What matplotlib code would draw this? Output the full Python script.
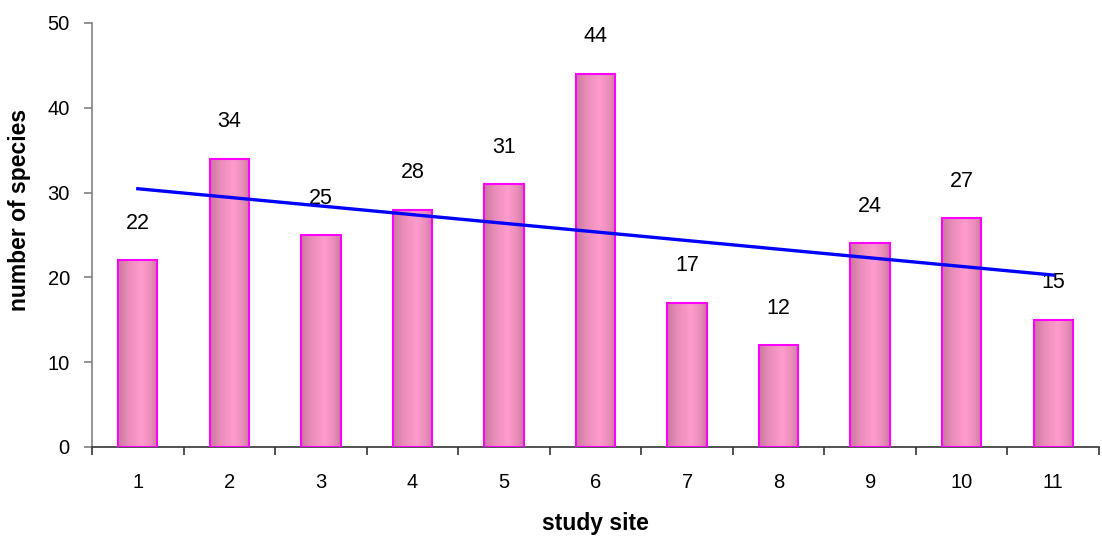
import numpy as np
import matplotlib
matplotlib.use("Agg")
import matplotlib.pyplot as plt
from matplotlib.colors import LinearSegmentedColormap
from matplotlib.patches import Rectangle

sites = [1, 2, 3, 4, 5, 6, 7, 8, 9, 10, 11]
species = [22, 34, 25, 28, 31, 44, 17, 12, 24, 27, 15]

plt.rcParams['font.family'] = ['Liberation Sans', 'DejaVu Sans']

fig = plt.figure(figsize=(11.02, 5.37), dpi=100)
ax = fig.add_axes([0.0835, 0.1676, 0.9138, 0.7896])

x = np.array(sites, dtype=float)
y = np.array(species, dtype=float)
bw = 0.43

cmap = LinearSegmentedColormap.from_list(
    "cyl", [(0.0, "#c97a9f"), (0.25, "#e98cb9"), (0.6, "#ff9ccd"), (0.85, "#e88bb8"), (1.0, "#c97a9f")])
grad = np.linspace(0, 1, 64).reshape(1, -1)

bars = ax.bar(x, y, width=bw, color="none", edgecolor="#ff00ff", linewidth=1.5, zorder=3)
for b in bars:
    x0, y0 = b.get_x(), b.get_y()
    w, h = b.get_width(), b.get_height()
    im = ax.imshow(grad, cmap=cmap, aspect="auto", extent=[x0, x0 + w, y0, y0 + h],
                   interpolation="bicubic", zorder=2)
    clip = Rectangle((x0, y0), w, h, transform=ax.transData)
    im.set_clip_path(clip)

for xi, yi in zip(x, y):
    ax.annotate(f"{int(yi)}", (xi, yi), xytext=(0, 19), textcoords="offset points",
                ha="center", va="bottom", fontsize=15.5)

# linear trend line
coef = np.polyfit(x, y, 1)
xt = np.array([x[0], x[-1]])
ax.plot(xt, np.polyval(coef, xt), color="#0000ff", linewidth=2.4, zorder=4)

ax.set_xlim(0.5, 11.5)
ax.set_ylim(0, 50)
ax.set_yticks([0, 10, 20, 30, 40, 50])
ax.set_xticks(x)
ax.set_xticklabels([str(s) for s in sites])
ax.set_xticks(np.arange(0.5, 12, 1.0), minor=True)
ax.tick_params(axis="x", which="major", length=0, pad=19, labelsize=14.5)
ax.tick_params(axis="x", which="minor", length=6, width=1.2, color="#333333")
ax.tick_params(axis="y", which="major", length=6, width=1.2, color="#808080", labelsize=14.5, pad=10)

for s in ["top", "right"]:
    ax.spines[s].set_visible(False)
ax.spines["left"].set_color("#808080")
ax.spines["left"].set_linewidth(1.2)
ax.spines["bottom"].set_color("#333333")
ax.spines["bottom"].set_linewidth(1.2)

ax.set_xlabel("study site", fontsize=16.5, fontweight="bold", va="center")
ax.xaxis.set_label_coords(0.5, -0.1816)
ax.set_ylabel("number of species", fontsize=16.5, fontweight="bold", va="center")
ax.yaxis.set_label_coords(-0.0725, 0.559)

fig.savefig("out.png", dpi=100)
